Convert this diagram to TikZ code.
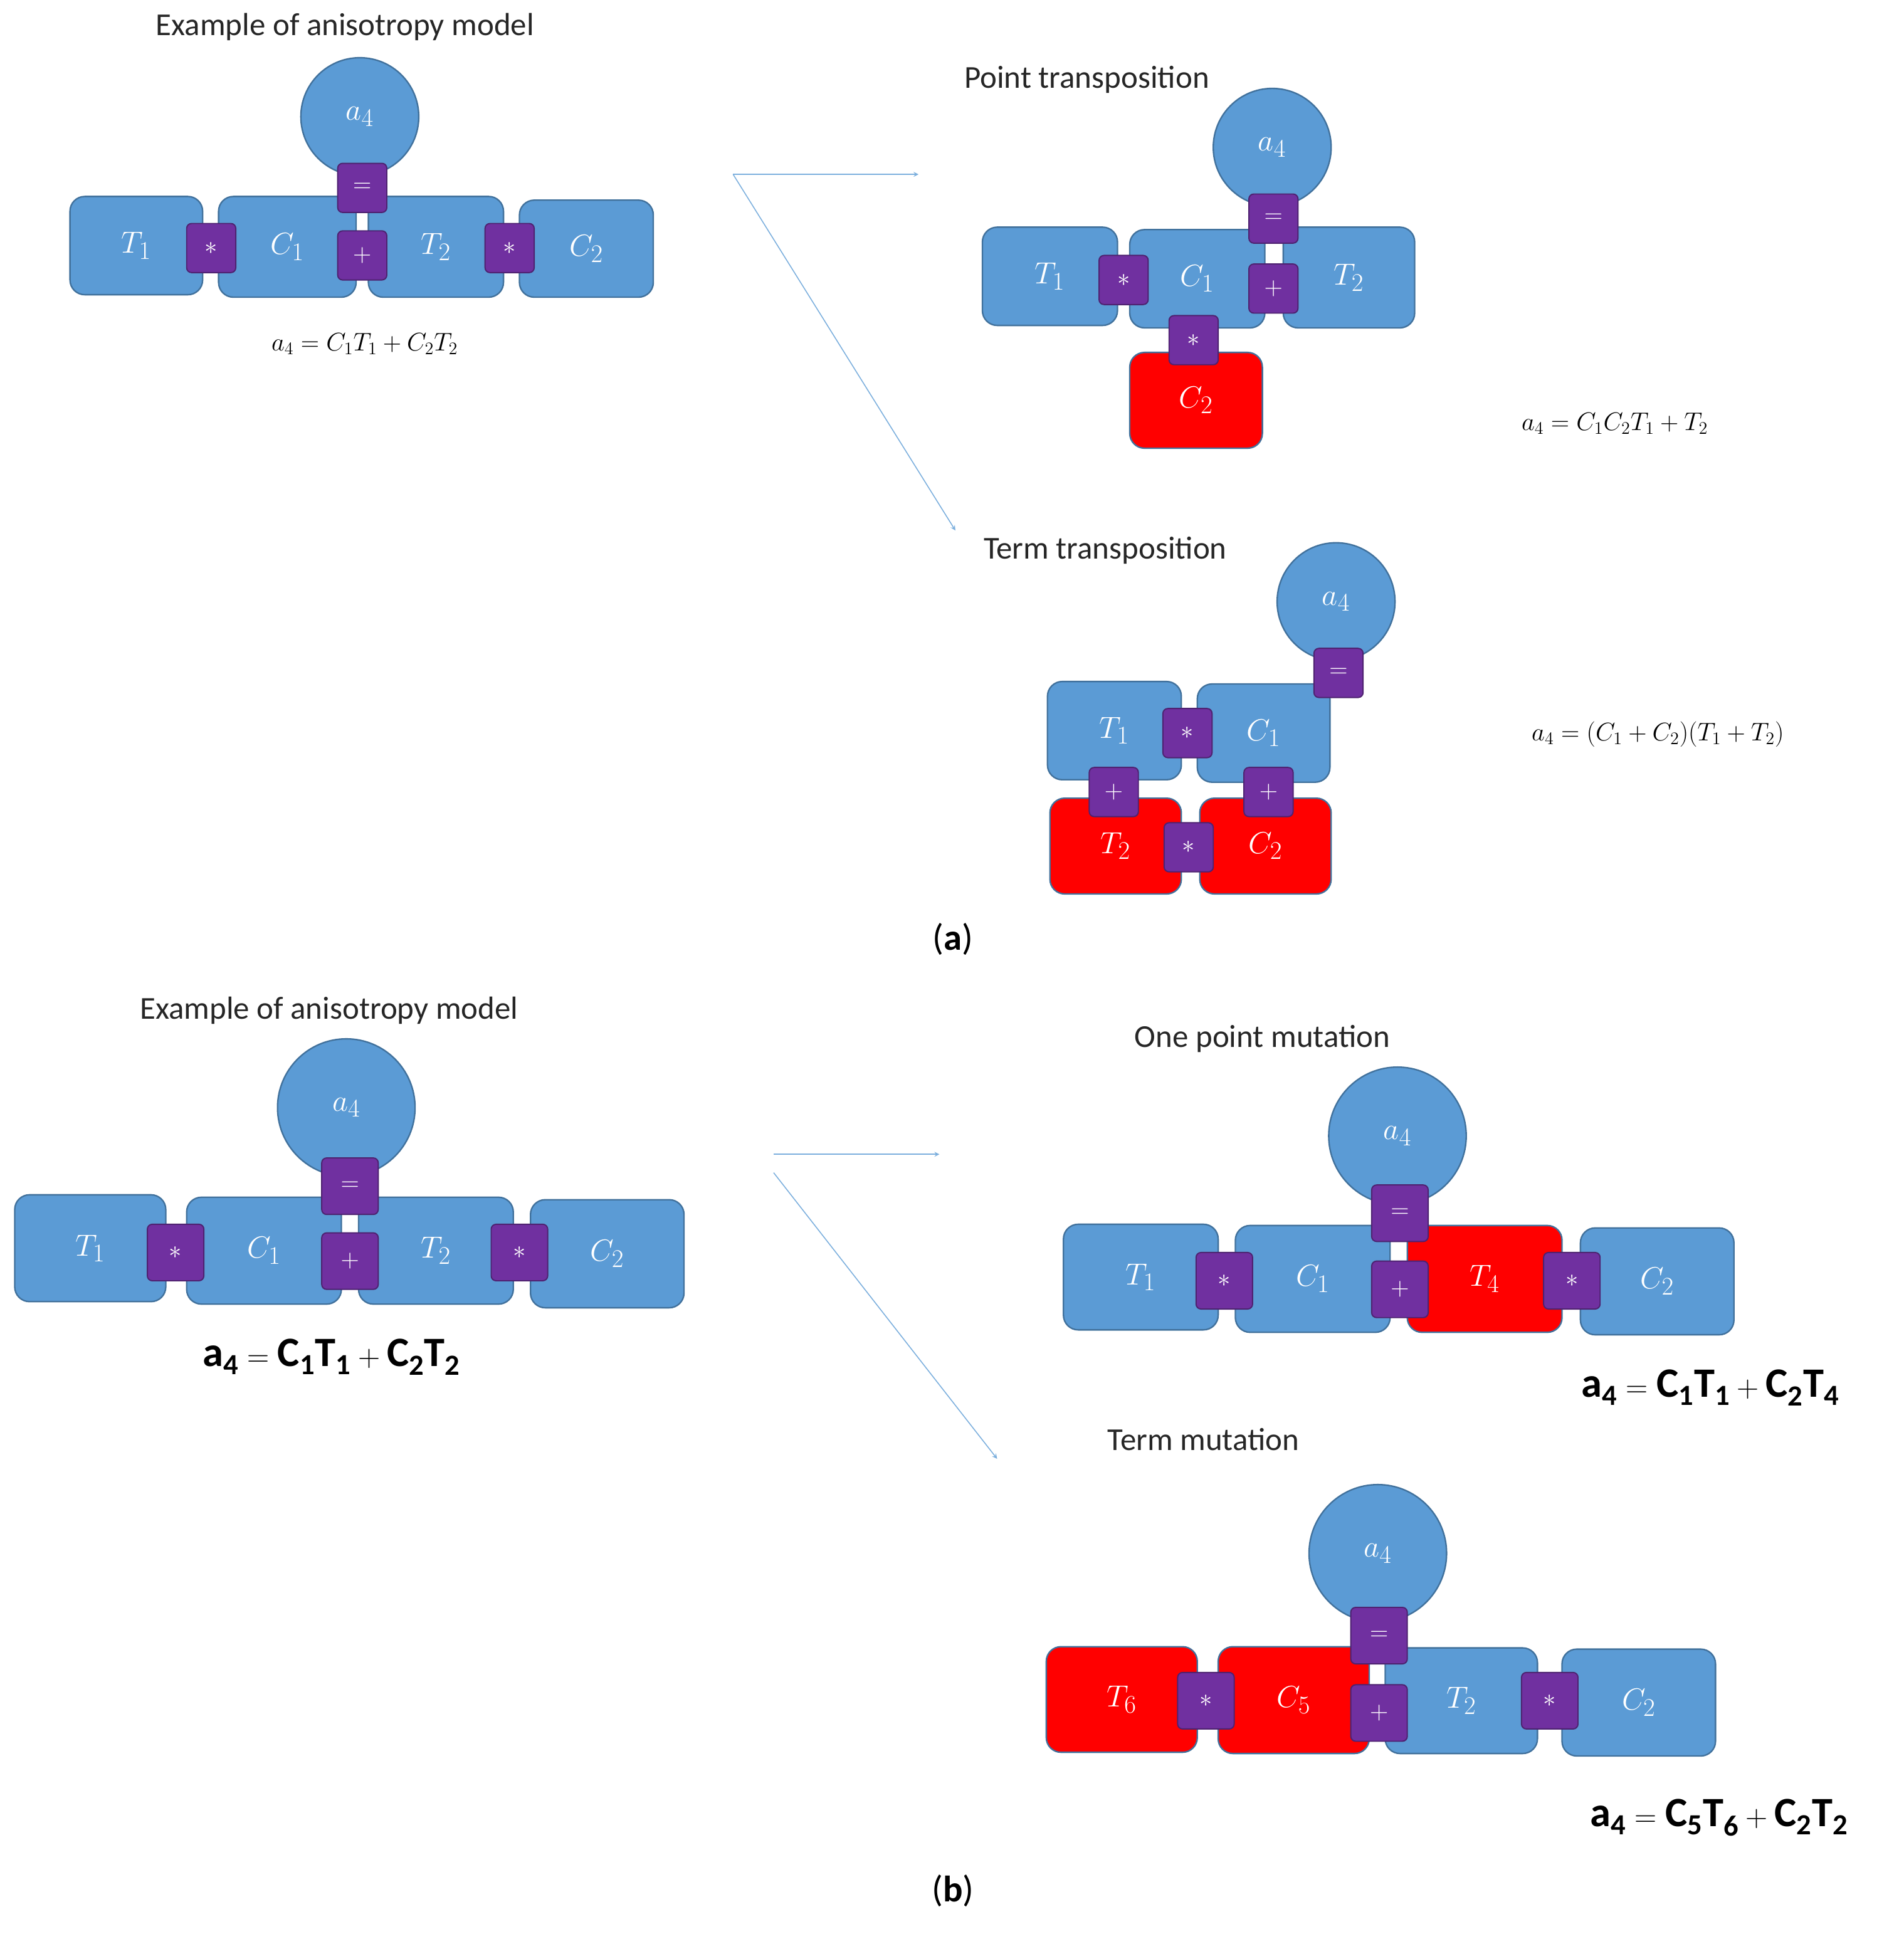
\documentclass[tikz,border=0pt]{standalone}
\usepackage{fontspec}
\setmainfont{Carlito}
\begin{document}
\begin{tikzpicture}[x=1pt,y=-1pt,
 blu/.style={fill=blue1,draw=blue2,line width=1.2pt,rounded corners=12pt},
 rd/.style={fill=red,draw=blue2,line width=1.2pt,rounded corners=12pt},
 op/.style={fill=purp,draw=purp!70!black,line width=1pt,rounded corners=4pt,minimum size=#1,inner sep=0pt,text=white,font=\fontsize{22}{24}\selectfont},
 op/.default=40pt,
 circ/.style={circle,fill=blue1,draw=blue2,line width=1.2pt,minimum size=#1,inner sep=0pt,text=white},
 lab/.style={text=white,font=\fontsize{28}{30}\selectfont},
 labb/.style={text=white,font=\fontsize{32}{34}\selectfont},
 ttl/.style={font=\fontsize{26}{30}\selectfont,text=black!85},
 arr/.style={draw=blue1!80,line width=0.8pt,-stealth}]
\definecolor{blue1}{HTML}{5B9BD5}
\definecolor{blue2}{HTML}{41719C}
\definecolor{purp}{HTML}{7030A0}
\useasboundingbox (0,0) rectangle (1550,1575);
\newcommand{\blk}[7]{\draw[#6] (#2,#3) rectangle (#4,#5) node[midway,lab] (#1) {$#7$};}
\newcommand{\blkb}[7]{\draw[#6] (#2,#3) rectangle (#4,#5) node[midway,labb] (#1) {$#7$};}
% ---- panel a, left
\node[ttl] (t1) at (281,22) {Example of anisotropy model};
\blk{a1}{57}{160}{165}{240}{blu}{T_1}
\blk{a2}{178}{160}{290}{242}{blu}{C_1}
\blk{a3}{300}{160}{410}{242}{blu}{T_2}
\blk{a4}{423}{163}{532}{242}{blu}{C_2}
\node[circ=96pt,lab] (ac) at (293,95) {$a_4$};
\node[op] (ao1) at (172,202) {$*$};
\node[op] (ao2) at (295,153) {$=$};
\node[op] (ao3) at (295,208) {$+$};
\node[op] (ao4) at (415,202) {$*$};
\node[font=\fontsize{22}{24}\selectfont] (af) at (297,280) {$a_4=C_1T_1+C_2T_2$};
% arrows
\coordinate (s1) at (597,142);
\coordinate (e1) at (748,142);
\coordinate (e2) at (778,432);
\draw[arr] (s1) -- (e1);
\draw[arr] (s1) -- (e2);
% point transposition
\node[ttl] (t2) at (885,65) {Point transposition};
\blk{p1}{800}{185}{910}{265}{blu}{T_1}
\blk{p2}{920}{187}{1030}{267}{blu}{C_1}
\blk{p3}{1045}{185}{1152}{267}{blu}{T_2}
\blk{p4}{920}{287}{1028}{365}{rd}{C_2}
\node[circ=96pt,lab] (pc) at (1036,120) {$a_4$};
\node[op] (po1) at (915,228) {$*$};
\node[op] (po2) at (1037,178) {$=$};
\node[op] (po3) at (1037,235) {$+$};
\node[op] (po4) at (972,277) {$*$};
\node[font=\fontsize{22}{24}\selectfont] (pf) at (1315,345) {$a_4=C_1C_2T_1+T_2$};
% term transposition
\node[ttl] (t3) at (900,448) {Term transposition};
\blk{q1}{853}{555}{962}{635}{blu}{T_1}
\blk{q2}{975}{557}{1083}{637}{blu}{C_1}
\blk{q3}{855}{650}{962}{728}{rd}{T_2}
\blk{q4}{977}{650}{1084}{728}{rd}{C_2}
\node[circ=96pt,lab] (qc) at (1088,490) {$a_4$};
\node[op] (qo1) at (1090,548) {$=$};
\node[op] (qo2) at (967,597) {$*$};
\node[op] (qo3) at (907,645) {$+$};
\node[op] (qo4) at (1033,645) {$+$};
\node[op] (qo5) at (968,690) {$*$};
\node[font=\fontsize{22}{24}\selectfont] (qf) at (1350,598) {$a_4=(C_1+C_2)(T_1+T_2)$};
\node[font=\fontsize{30}{32}\selectfont] (la) at (776,765) {(\textbf{a})};
% ---- panel b, left
\node[ttl] (t4) at (268,823) {Example of anisotropy model};
\blkb{b1}{12}{973}{135}{1060}{blu}{T_1}
\blkb{b2}{152}{975}{278}{1062}{blu}{C_1}
\blkb{b3}{292}{975}{418}{1062}{blu}{T_2}
\blkb{b4}{432}{977}{557}{1065}{blu}{C_2}
\node[circ=112pt,labb] (bc) at (282,902) {$a_4$};
\node[op=46pt] (bo1) at (143,1020) {$*$};
\node[op=46pt] (bo2) at (285,966) {$=$};
\node[op=46pt] (bo3) at (285,1027) {$+$};
\node[op=46pt] (bo4) at (423,1020) {$*$};
\node[font=\fontsize{34}{36}\selectfont] (bf) at (270,1105) {$\mathbf{a_4=C_1T_1+C_2T_2}$};
\coordinate (s2) at (630,940);
\coordinate (s3) at (630,955);
\coordinate (e3) at (765,940);
\coordinate (e4) at (812,1188);
\draw[arr] (s2) -- (e3);
\draw[arr] (s3) -- (e4);
% one point mutation
\node[ttl] (t5) at (1028,846) {One point mutation};
\blkb{m1}{866}{997}{992}{1083}{blu}{T_1}
\blkb{m2}{1006}{998}{1132}{1085}{blu}{C_1}
\blkb{m3}{1146}{998}{1272}{1085}{rd}{T_4}
\blkb{m4}{1287}{1000}{1412}{1087}{blu}{C_2}
\node[circ=112pt,labb] (mc) at (1138,925) {$a_4$};
\node[op=46pt] (mo1) at (997,1043) {$*$};
\node[op=46pt] (mo2) at (1140,988) {$=$};
\node[op=46pt] (mo3) at (1140,1050) {$+$};
\node[op=46pt] (mo4) at (1280,1043) {$*$};
\node[font=\fontsize{34}{36}\selectfont] (mf) at (1393,1130) {$\mathbf{a_4=C_1T_1+C_2T_4}$};
% term mutation
\node[ttl] (t6) at (980,1172) {Term mutation};
\blkb{n1}{852}{1341}{975}{1427}{rd}{T_6}
\blkb{n2}{992}{1341}{1115}{1428}{rd}{C_5}
\blkb{n3}{1128}{1342}{1252}{1428}{blu}{T_2}
\blkb{n4}{1272}{1343}{1397}{1430}{blu}{C_2}
\node[circ=112pt,labb] (nc) at (1122,1265) {$a_4$};
\node[op=46pt] (no1) at (982,1385) {$*$};
\node[op=46pt] (no2) at (1123,1332) {$=$};
\node[op=46pt] (no3) at (1123,1395) {$+$};
\node[op=46pt] (no4) at (1262,1385) {$*$};
\node[font=\fontsize{34}{36}\selectfont] (nf) at (1400,1480) {$\mathbf{a_4=C_5T_6+C_2T_2}$};
\node[font=\fontsize{30}{32}\selectfont] (lb) at (776,1540) {(\textbf{b})};
\end{tikzpicture}
\end{document}
